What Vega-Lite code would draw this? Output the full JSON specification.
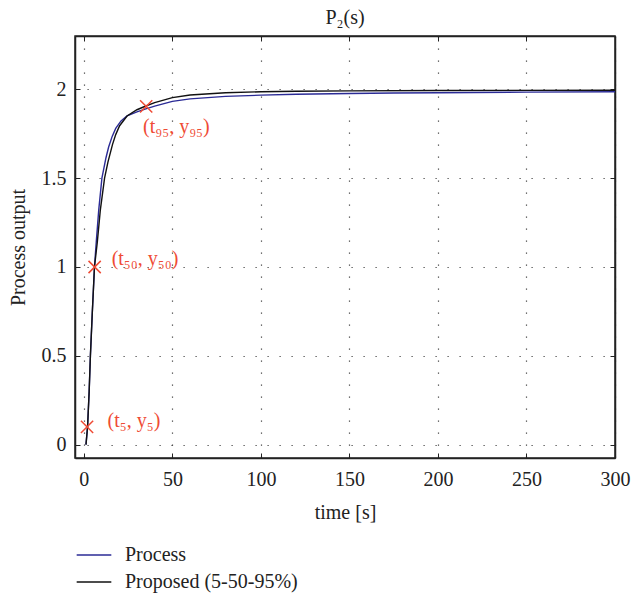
{
  "$schema": "https://vega.github.io/schema/vega-lite/v6.json",
  "width": 540,
  "height": 422,
  "autosize": "none",
  "padding": {"left": 75, "top": 36, "right": 17, "bottom": 139},
  "background": "white",
  "title": {"text": "P₂(s)", "font": "Liberation Serif", "fontSize": 20, "fontWeight": "normal", "color": "#222", "offset": 8},
  "config": {
    "view": {"stroke": "#222", "strokeWidth": 1.5},
    "axis": {
      "labelFont": "Liberation Serif", "labelFontSize": 20, "labelColor": "#222", "labelFlush": false, "labelOverlap": false,
      "titleFont": "Liberation Serif", "titleFontSize": 20, "titleFontWeight": "normal", "titleColor": "#222",
      "domainColor": "#222", "domainWidth": 1.5,
      "tickColor": "#222", "tickSize": -5, "tickWidth": 1,
      "gridColor": "#444", "gridDash": [1.2, 10.8], "gridWidth": 1.2, "gridOpacity": 1
    }
  },
  "datasets": {
    "curves": [
      {"t": 1.2, "y": 0.0, "series": "Process"},
      {"t": 2.1, "y": 0.1, "series": "Process"},
      {"t": 3.0, "y": 0.3, "series": "Process"},
      {"t": 3.7, "y": 0.5, "series": "Process"},
      {"t": 4.8, "y": 0.75, "series": "Process"},
      {"t": 6.0, "y": 1.0, "series": "Process"},
      {"t": 7.0, "y": 1.14, "series": "Process"},
      {"t": 8.4, "y": 1.32, "series": "Process"},
      {"t": 10.2, "y": 1.5, "series": "Process"},
      {"t": 12.5, "y": 1.615, "series": "Process"},
      {"t": 14.0, "y": 1.675, "series": "Process"},
      {"t": 16.0, "y": 1.735, "series": "Process"},
      {"t": 18.0, "y": 1.78, "series": "Process"},
      {"t": 21.0, "y": 1.822, "series": "Process"},
      {"t": 24.4, "y": 1.85, "series": "Process"},
      {"t": 30.0, "y": 1.873, "series": "Process"},
      {"t": 35.0, "y": 1.89, "series": "Process"},
      {"t": 40.0, "y": 1.905, "series": "Process"},
      {"t": 50.0, "y": 1.932, "series": "Process"},
      {"t": 60.0, "y": 1.946, "series": "Process"},
      {"t": 80.0, "y": 1.96, "series": "Process"},
      {"t": 100.0, "y": 1.967, "series": "Process"},
      {"t": 120.0, "y": 1.972, "series": "Process"},
      {"t": 150.0, "y": 1.976, "series": "Process"},
      {"t": 175.0, "y": 1.979, "series": "Process"},
      {"t": 200.0, "y": 1.981, "series": "Process"},
      {"t": 250.0, "y": 1.984, "series": "Process"},
      {"t": 300.0, "y": 1.986, "series": "Process"},
      {"t": 1.2, "y": 0.0, "series": "Proposed (5-50-95%)"},
      {"t": 2.1, "y": 0.1, "series": "Proposed (5-50-95%)"},
      {"t": 3.0, "y": 0.3, "series": "Proposed (5-50-95%)"},
      {"t": 3.7, "y": 0.5, "series": "Proposed (5-50-95%)"},
      {"t": 4.8, "y": 0.75, "series": "Proposed (5-50-95%)"},
      {"t": 6.0, "y": 1.0, "series": "Proposed (5-50-95%)"},
      {"t": 7.6, "y": 1.14, "series": "Proposed (5-50-95%)"},
      {"t": 9.3, "y": 1.32, "series": "Proposed (5-50-95%)"},
      {"t": 11.7, "y": 1.5, "series": "Proposed (5-50-95%)"},
      {"t": 13.6, "y": 1.59, "series": "Proposed (5-50-95%)"},
      {"t": 16.2, "y": 1.69, "series": "Proposed (5-50-95%)"},
      {"t": 18.0, "y": 1.745, "series": "Proposed (5-50-95%)"},
      {"t": 20.2, "y": 1.795, "series": "Proposed (5-50-95%)"},
      {"t": 24.4, "y": 1.85, "series": "Proposed (5-50-95%)"},
      {"t": 30.0, "y": 1.885, "series": "Proposed (5-50-95%)"},
      {"t": 35.0, "y": 1.906, "series": "Proposed (5-50-95%)"},
      {"t": 40.0, "y": 1.925, "series": "Proposed (5-50-95%)"},
      {"t": 50.0, "y": 1.953, "series": "Proposed (5-50-95%)"},
      {"t": 60.0, "y": 1.968, "series": "Proposed (5-50-95%)"},
      {"t": 80.0, "y": 1.981, "series": "Proposed (5-50-95%)"},
      {"t": 100.0, "y": 1.986, "series": "Proposed (5-50-95%)"},
      {"t": 120.0, "y": 1.989, "series": "Proposed (5-50-95%)"},
      {"t": 150.0, "y": 1.991, "series": "Proposed (5-50-95%)"},
      {"t": 200.0, "y": 1.993, "series": "Proposed (5-50-95%)"},
      {"t": 300.0, "y": 1.995, "series": "Proposed (5-50-95%)"}
    ],
    "markers": [
      {"t": 1.8, "y": 0.1, "label": "(t₅, y₅)", "lt": 13.4, "ly": 0.131},
      {"t": 6.1, "y": 1.0, "label": "(t₅₀, y₅₀)", "lt": 15.7, "ly": 1.045},
      {"t": 35.2, "y": 1.904, "label": "(t₉₅, y₉₅)", "lt": 33.4, "ly": 1.788}
    ]
  },
  "layer": [
    {
      "data": {"name": "curves"},
      "mark": {"type": "line", "strokeWidth": 1.4},
      "encoding": {
        "x": {"field": "t", "type": "quantitative", "scale": {"domain": [-5, 300], "nice": false, "zero": false},
              "axis": {"title": "time [s]", "values": [0, 50, 100, 150, 200, 250, 300], "grid": true, "labelPadding": 16, "titlePadding": 13}},
        "y": {"field": "y", "type": "quantitative", "scale": {"domain": [-0.075, 2.3], "nice": false, "zero": false},
              "axis": {"title": "Process output", "values": [0, 0.5, 1, 1.5, 2], "format": "~g", "grid": true, "labelPadding": 14, "titlePadding": 13}},
        "color": {"field": "series", "type": "nominal",
                  "scale": {"domain": ["Process", "Proposed (5-50-95%)"], "range": ["#2b2b96", "#111111"]},
                  "legend": {"orient": "none", "legendX": 9, "legendY": 509, "direction": "vertical", "title": null,
                             "symbolType": "M-2,0L2,0", "symbolSize": 300, "symbolStrokeWidth": 1.4,
                             "labelFont": "Liberation Serif", "labelFontSize": 20, "labelColor": "#222", "labelLimit": 400,
                             "labelOffset": 21, "rowPadding": 7, "padding": 0}},
        "detail": {"field": "series"}
      }
    },
    {
      "data": {"name": "markers"},
      "mark": {"type": "point", "shape": "M-1,-1L1,1M-1,1L1,-1", "filled": false, "size": 150, "stroke": "#ef4b35", "strokeWidth": 1.5, "opacity": 1},
      "encoding": {
        "x": {"field": "t", "type": "quantitative", "axis": null},
        "y": {"field": "y", "type": "quantitative", "axis": null}
      }
    },
    {
      "data": {"name": "markers"},
      "mark": {"type": "text", "align": "left", "baseline": "middle", "font": "Liberation Serif", "fontSize": 20, "color": "#ef4b35"},
      "encoding": {
        "x": {"field": "lt", "type": "quantitative", "axis": null},
        "y": {"field": "ly", "type": "quantitative", "axis": null},
        "text": {"field": "label"}
      }
    },
    {
      "data": {"name": "markers"},
      "mark": {"type": "point", "opacity": 0},
      "encoding": {
        "x": {"field": "t", "type": "quantitative",
              "axis": {"orient": "top", "labels": false, "title": null, "grid": false, "values": [0, 50, 100, 150, 200, 250, 300]}},
        "y": {"field": "y", "type": "quantitative",
              "axis": {"orient": "right", "labels": false, "title": null, "grid": false, "values": [0, 0.5, 1, 1.5, 2]}}
      }
    }
  ],
  "resolve": {"axis": {"x": "independent", "y": "independent"}}
}
